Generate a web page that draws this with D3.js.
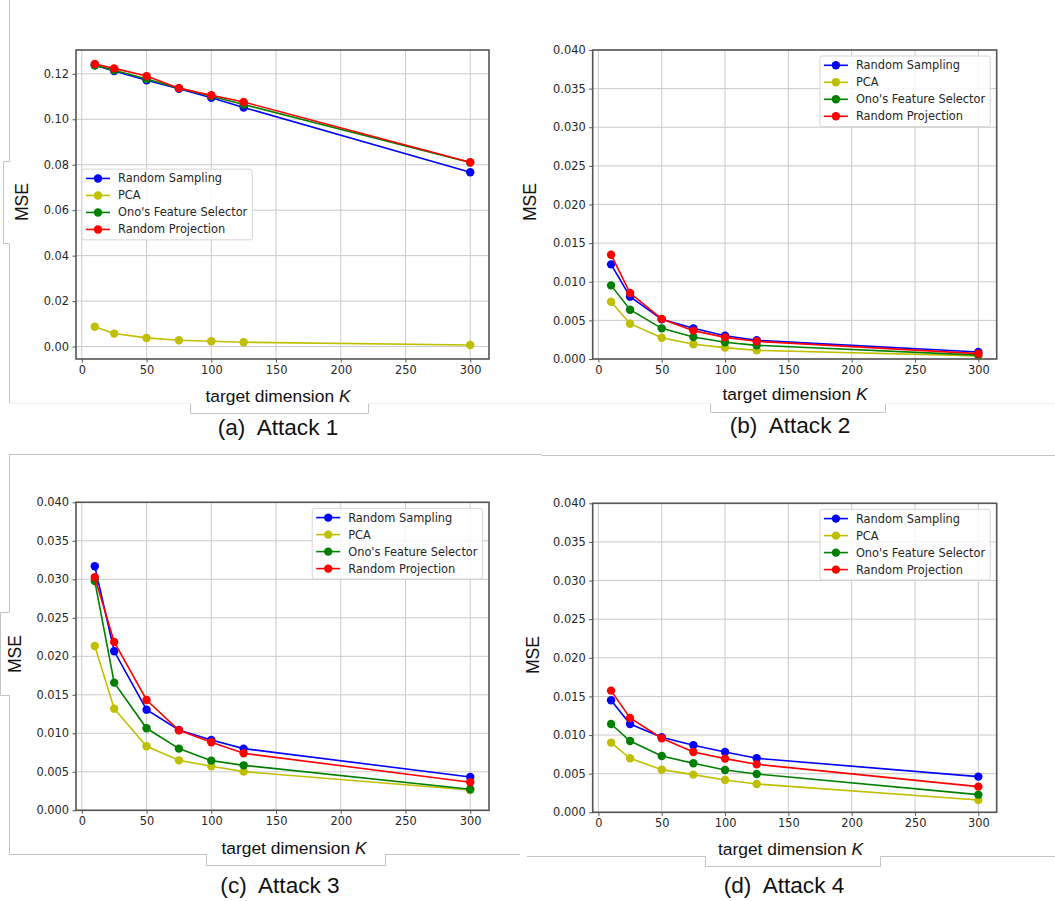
<!DOCTYPE html>
<html>
<head>
<meta charset="utf-8">
<script src="https://cdn.jsdelivr.net/npm/d3@7"></script>
<style>
  body { margin: 0; background: #fff; }
  svg { display: block; }
  .tick text { font-family: "DejaVu Sans", sans-serif; font-size: 11.4px; fill: #262626; }
  .lbl { font-family: "Liberation Sans", Arial, sans-serif; fill: #111; }
  .legend text { font-family: "DejaVu Sans", sans-serif; font-size: 11.4px; fill: #262626; }
</style>
</head>
<body>
<div id="chart"></div>
<script>
// x values shared by all panels
const dims = [10, 25, 50, 75, 100, 125, 300];
const methods = ["Random Sampling", "PCA", "Ono's Feature Selector", "Random Projection"];
const colors = ["#0000ff", "#bfbf00", "#008000", "#ff0000"];
const xTicks = [0, 50, 100, 150, 200, 250, 300];

// MSE per attack, one row per method (same order as methods)
const attack1 = [
  [0.1238, 0.1212, 0.1172, 0.1134, 0.1095, 0.1052, 0.0767],
  [0.0087, 0.0057, 0.0038, 0.0028, 0.0023, 0.0019, 0.0007],
  [0.1238, 0.1216, 0.1177, 0.1137, 0.1101, 0.1065, 0.0810],
  [0.1243, 0.1224, 0.1190, 0.1137, 0.1106, 0.1076, 0.0811]
];
const attack2 = [
  [0.01225, 0.00807, 0.00513, 0.00397, 0.00302, 0.00242, 0.00090],
  [0.00742, 0.00457, 0.00276, 0.00190, 0.00147, 0.00112, 0.00040],
  [0.00953, 0.00638, 0.00397, 0.00285, 0.00216, 0.00177, 0.00050],
  [0.01350, 0.00854, 0.00518, 0.00367, 0.00280, 0.00229, 0.00070]
];
const attack3 = [
  [0.03169, 0.02065, 0.01307, 0.01043, 0.00913, 0.00801, 0.00433],
  [0.02134, 0.01320, 0.00831, 0.00649, 0.00571, 0.00502, 0.00264],
  [0.02978, 0.01658, 0.01065, 0.00801, 0.00645, 0.00584, 0.00273],
  [0.03026, 0.02186, 0.01433, 0.01039, 0.00883, 0.00740, 0.00364]
];
const attack4 = [
  [0.01450, 0.01143, 0.00971, 0.00867, 0.00781, 0.00699, 0.00462],
  [0.00902, 0.00699, 0.00552, 0.00488, 0.00418, 0.00367, 0.00160],
  [0.01143, 0.00923, 0.00729, 0.00634, 0.00548, 0.00496, 0.00229],
  [0.01575, 0.01221, 0.00958, 0.00781, 0.00695, 0.00621, 0.00332]
];

const captions = ["(a)  Attack 1", "(b)  Attack 2", "(c)  Attack 3", "(d)  Attack 4"];
const yTicksA = [0, 0.02, 0.04, 0.06, 0.08, 0.10, 0.12];
const yTicksB = [0, 0.005, 0.01, 0.015, 0.02, 0.025, 0.03, 0.035, 0.04];

const width = 1055, height = 901;

const svg = d3.select("#chart")
  .append("svg")
  .attr("width", width)
  .attr("height", height);

// faint frame lines left over from the page the figures were cut from
const framePaths = [
  "M9.5,0V161.5H3.5V243.5H9.5V403.5",
  "M190.5,403.5V413.5H368.5V403.5",
  "M710.5,403.5V412.5H885.5V403.5",
  "M9.5,454.5H541.5",
  "M541.5,455.5H1055",
  "M9.5,454.5V612.5H0.5V695.5H9.5V854.5H206.5V865.5H385.5V854.5H520",
  "M527,856.5H705.5V866.5H880.5V856.5H1055"
];
svg.append("g")
  .attr("fill", "none")
  .attr("stroke", "#c4c4c4")
  .attr("stroke-width", 1)
  .selectAll("path")
  .data(framePaths)
  .join("path")
    .attr("d", d => d);
svg.append("g")
  .attr("stroke", "#f0f0f0")
  .attr("stroke-width", 1)
  .selectAll("line")
  .data([[9, 190], [368, 710], [885, 1055]])
  .join("line")
    .attr("x1", d => d[0]).attr("x2", d => d[1])
    .attr("y1", 403.5).attr("y2", 403.5);

const panels = [
  { data: attack1, box: {l: 76, r: 489, t: 50, b: 359}, yTicks: yTicksA, fmt: d3.format(".2f"), pad: true,
    legend: "centerleft", ylab: [21.7, 202], xlab: [278, 401.5], cap: [278, 435] },
  { data: attack2, box: {l: 592.7, r: 996.7, t: 50, b: 359}, yTicks: yTicksB, fmt: d3.format(".3f"),
    legend: "upperright", ylab: [530, 202], xlab: [795, 400], cap: [790, 433] },
  { data: attack3, box: {l: 76, r: 489, t: 502.3, b: 810.3}, yTicks: yTicksB, fmt: d3.format(".3f"),
    legend: "upperright", ylab: [15, 654], xlab: [294, 854], cap: [280, 893] },
  { data: attack4, box: {l: 592.7, r: 996.7, t: 503.3, b: 812.3}, yTicks: yTicksB, fmt: d3.format(".3f"),
    legend: "upperright", ylab: [533, 655], xlab: [790.5, 855], cap: [784, 893] }
];

const drawPanel = (p, i) => {
  const {l, r, t, b} = p.box;

  const x = d3.scaleLinear().domain([-4.5, 314.5]).range([l, r]);
  let yDomain = [0, 0.04];
  if (p.pad) {
    const ext = d3.extent(p.data.flat());
    const m = (ext[1] - ext[0]) * 0.05;
    yDomain = [ext[0] - m, ext[1] + m];
  }
  const y = d3.scaleLinear().domain(yDomain).range([b, t]);

  const g = svg.append("g");

  // grid
  g.append("g")
    .attr("stroke", "#cbcbcb")
    .attr("stroke-width", 1)
    .call(sel => {
      sel.selectAll(".gx").data(xTicks).join("line")
        .attr("x1", d => x(d)).attr("x2", d => x(d))
        .attr("y1", t).attr("y2", b);
      sel.selectAll(".gy").data(p.yTicks).join("line")
        .attr("y1", d => y(d)).attr("y2", d => y(d))
        .attr("x1", l).attr("x2", r);
    });

  // axes
  g.append("g")
    .attr("transform", `translate(0,${b})`)
    .call(d3.axisBottom(x).tickValues(xTicks).tickSize(3.5).tickPadding(3.5).tickSizeOuter(0))
    .call(a => a.select(".domain").remove())
    .call(a => a.selectAll(".tick line").attr("stroke", "#555"));

  g.append("g")
    .attr("transform", `translate(${l},0)`)
    .call(d3.axisLeft(y).tickValues(p.yTicks).tickFormat(p.fmt).tickSize(3.5).tickPadding(3.5).tickSizeOuter(0))
    .call(a => a.select(".domain").remove())
    .call(a => a.selectAll(".tick line").attr("stroke", "#555"));

  // series
  const line = d3.line().x((d, j) => x(dims[j])).y(d => y(d));
  p.data.forEach((vals, k) => {
    const s = g.append("g");
    s.append("path")
      .attr("d", line(vals))
      .attr("fill", "none")
      .attr("stroke", colors[k])
      .attr("stroke-width", 1.6);
    s.selectAll("circle").data(vals).join("circle")
      .attr("cx", (d, j) => x(dims[j]))
      .attr("cy", d => y(d))
      .attr("r", 4.2)
      .attr("fill", colors[k]);
  });

  // spines
  g.append("rect")
    .attr("x", l).attr("y", t)
    .attr("width", r - l).attr("height", b - t)
    .attr("fill", "none")
    .attr("stroke", "#555")
    .attr("stroke-width", 1.6);

  // legend
  const rowH = 17, boxH = 70.7;
  const leg = g.append("g").attr("class", "legend");
  const frame = leg.append("rect")
    .attr("rx", 2.5)
    .attr("fill", "#fff")
    .attr("fill-opacity", 0.85)
    .attr("stroke", "#d6d6d6")
    .attr("stroke-width", 1);
  const rows = leg.selectAll(".row").data(methods).join("g")
    .attr("transform", (d, k) => `translate(0,${9.3 + k * rowH})`);
  rows.append("line")
    .attr("x1", 4).attr("x2", 28)
    .attr("stroke", (d, k) => colors[k])
    .attr("stroke-width", 1.6);
  rows.append("circle")
    .attr("cx", 16).attr("r", 4.2)
    .attr("fill", (d, k) => colors[k]);
  rows.append("text")
    .attr("x", 36)
    .attr("dy", "0.35em")
    .text(d => d);
  const tw = d3.max(rows.selectAll("text").nodes(), n => n.getComputedTextLength());
  const boxW = 36 + tw + 5;
  frame.attr("width", boxW).attr("height", boxH);
  if (p.legend === "centerleft") {
    leg.attr("transform", `translate(${l + 6},${(t + b) / 2 - boxH / 2})`);
  } else {
    leg.attr("transform", `translate(${r - 6.5 - boxW},${t + 6})`);
  }

  // labels
  svg.append("text")
    .attr("class", "lbl")
    .attr("transform", `translate(${p.ylab[0]},${p.ylab[1]}) rotate(-90)`)
    .attr("text-anchor", "middle")
    .attr("dy", "0.35em")
    .style("font-size", "17.5px")
    .text("MSE");

  const xl = svg.append("text")
    .attr("class", "lbl")
    .attr("x", p.xlab[0]).attr("y", p.xlab[1])
    .attr("text-anchor", "middle")
    .style("font-size", "17.4px");
  xl.append("tspan").text("target dimension ");
  xl.append("tspan").style("font-style", "italic").text("K");

  svg.append("text")
    .attr("class", "lbl")
    .attr("x", p.cap[0]).attr("y", p.cap[1])
    .attr("text-anchor", "middle")
    .style("font-size", "22.6px")
    .style("white-space", "pre")
    .text(captions[i]);
};

panels.forEach(drawPanel);
</script>
</body>
</html>
